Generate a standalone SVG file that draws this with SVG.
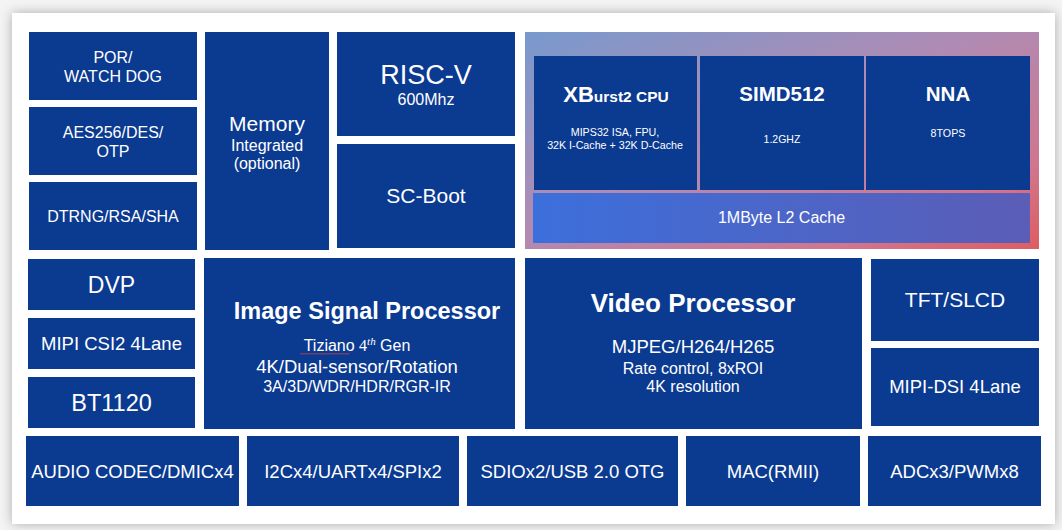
<svg xmlns="http://www.w3.org/2000/svg" width="1062" height="530" viewBox="0 0 1062 530">
<defs>
<style>
.b{fill:#0b3a91}
text{font-family:"Liberation Sans",Arial,sans-serif;fill:#fff;text-anchor:middle}
.bold{font-weight:bold}
</style>
<linearGradient id="gCore" x1="0" y1="0" x2="1" y2="1">
<stop offset="0" stop-color="#7899cd"/>
<stop offset="0.45" stop-color="#b08bb3"/>
<stop offset="0.8" stop-color="#d0768f"/>
<stop offset="1" stop-color="#de5d60"/>
</linearGradient>
<linearGradient id="gL2" x1="0" y1="0" x2="1" y2="0">
<stop offset="0" stop-color="#3c6fdb"/>
<stop offset="1" stop-color="#5b5db6"/>
</linearGradient>
<filter id="sh" x="-5%" y="-5%" width="110%" height="110%">
<feDropShadow dx="0" dy="0" stdDeviation="6" flood-color="#000" flood-opacity="0.3"/>
</filter>
</defs>
<rect x="0" y="0" width="1062" height="530" fill="#f4f4f4"/>
<rect x="12" y="13" width="1043" height="511" fill="#fff" filter="url(#sh)"/>

<g id="por"><rect class="b" x="29" y="32" width="168" height="68"/>
<text x="113" y="63" font-size="16">POR/</text><text x="113" y="82" font-size="16">WATCH DOG</text></g>
<g id="aes"><rect class="b" x="29" y="107" width="168" height="68"/>
<text x="113" y="138" font-size="16">AES256/DES/</text><text x="113" y="157" font-size="16">OTP</text></g>
<g id="dtrng"><rect class="b" x="29" y="182" width="168" height="68"/>
<text x="113" y="222" font-size="16">DTRNG/RSA/SHA</text></g>
<g id="memory"><rect class="b" x="205" y="32" width="124" height="218"/>
<text x="267" y="131" font-size="21">Memory</text><text x="267" y="151" font-size="16">Integrated</text><text x="267" y="169" font-size="16">(optional)</text></g>
<g id="riscv"><rect class="b" x="337" y="32" width="178" height="104"/>
<text x="426" y="84" font-size="27">RISC-V</text><text x="426" y="105" font-size="16">600Mhz</text></g>
<g id="scboot"><rect class="b" x="337" y="144" width="178" height="104"/>
<text x="426" y="203" font-size="21">SC-Boot</text></g>

<g id="core"><rect x="525" y="32" width="514" height="217" fill="url(#gCore)"/></g>
<g id="xburst"><rect class="b" x="534" y="56" width="163" height="134"/>
<text x="616" y="102" class="bold"><tspan font-size="22">XB</tspan><tspan font-size="15.5">urst2 CPU</tspan></text>
<text x="615" y="136" font-size="10.7">MIPS32 ISA, FPU,</text><text x="615" y="149" font-size="10.7">32K I-Cache + 32K D-Cache</text></g>
<g id="simd"><rect class="b" x="700" y="56" width="164" height="134"/>
<text x="782" y="101" font-size="20.5" class="bold">SIMD512</text><text x="782" y="143" font-size="10.5">1.2GHZ</text></g>
<g id="nna"><rect class="b" x="866" y="56" width="164" height="134"/>
<text x="948" y="101" font-size="20.5" class="bold">NNA</text><text x="948" y="137" font-size="10.7">8TOPS</text></g>
<g id="l2"><rect x="533" y="193" width="497" height="50" fill="url(#gL2)"/>
<text x="781.5" y="223" font-size="16">1MByte L2 Cache</text></g>

<g id="dvp"><rect class="b" x="28" y="259" width="167" height="51"/>
<text x="111.5" y="293" font-size="23">DVP</text></g>
<g id="csi"><rect class="b" x="28" y="318" width="167" height="51"/>
<text x="111.5" y="350" font-size="18.5">MIPI CSI2 4Lane</text></g>
<g id="bt1120"><rect class="b" x="28" y="377" width="167" height="51"/>
<text x="111.5" y="411" font-size="23.5">BT1120</text></g>
<g id="isp"><rect class="b" x="204" y="258" width="311" height="171"/>
<text x="367" y="319" font-size="23.5" class="bold">Image Signal Processor</text>
<text x="357" y="351" font-size="16">Tiziano <tspan font-family="Liberation Serif">4</tspan><tspan font-family="Liberation Serif" font-style="italic" font-size="11" dy="-6">th</tspan><tspan dy="6"> Gen</tspan></text>
<path d="M300 354.5 l1.5 -1.5 l1.5 1.5 l1.5 -1.5 l1.5 1.5 l1.5 -1.5 l1.5 1.5 l1.5 -1.5 l1.5 1.5 l1.5 -1.5 l1.5 1.5 l1.5 -1.5 l1.5 1.5 l1.5 -1.5 l1.5 1.5 l1.5 -1.5 l1.5 1.5 l1.5 -1.5 l1.5 1.5 l1.5 -1.5 l1.5 1.5 l1.5 -1.5 l1.5 1.5 l1.5 -1.5 l1.5 1.5 l1.5 -1.5 l1.5 1.5 l1.5 -1.5 l1.5 1.5 l1.5 -1.5 l1.5 1.5 l1.5 -1.5 l1.5 1.5 l1.5 -1.5" fill="none" stroke="#d9463e" stroke-width="0.8"/>
<text x="357" y="373" font-size="18.5">4K/Dual-sensor/Rotation</text>
<text x="357" y="392" font-size="16">3A/3D/WDR/HDR/RGR-IR</text></g>
<g id="video"><rect class="b" x="525" y="258" width="337" height="171"/>
<text x="693" y="312" font-size="26" class="bold">Video Processor</text>
<text x="693" y="353" font-size="18.5">MJPEG/H264/H265</text>
<text x="693" y="374" font-size="16">Rate control, 8xROI</text>
<text x="693" y="392" font-size="16">4K resolution</text></g>
<g id="tft"><rect class="b" x="871" y="259" width="168" height="82"/>
<text x="955" y="307" font-size="21">TFT/SLCD</text></g>
<g id="dsi"><rect class="b" x="871" y="348" width="168" height="78"/>
<text x="955" y="393" font-size="18.5">MIPI-DSI 4Lane</text></g>

<g id="audio"><rect class="b" x="26" y="436" width="213" height="70"/>
<text x="132.5" y="478" font-size="18.5">AUDIO CODEC/DMICx4</text></g>
<g id="i2c"><rect class="b" x="247" y="436" width="212" height="70"/>
<text x="353" y="478" font-size="18.5">I2Cx4/UARTx4/SPIx2</text></g>
<g id="sdio"><rect class="b" x="467" y="436" width="211" height="70"/>
<text x="572.5" y="478" font-size="18.5">SDIOx2/USB 2.0 OTG</text></g>
<g id="mac"><rect class="b" x="686" y="436" width="174" height="70"/>
<text x="773" y="478" font-size="18.5">MAC(RMII)</text></g>
<g id="adc"><rect class="b" x="868" y="436" width="173" height="70"/>
<text x="954.5" y="478" font-size="18.5">ADCx3/PWMx8</text></g>
<g id="connectors"/>
</svg>
